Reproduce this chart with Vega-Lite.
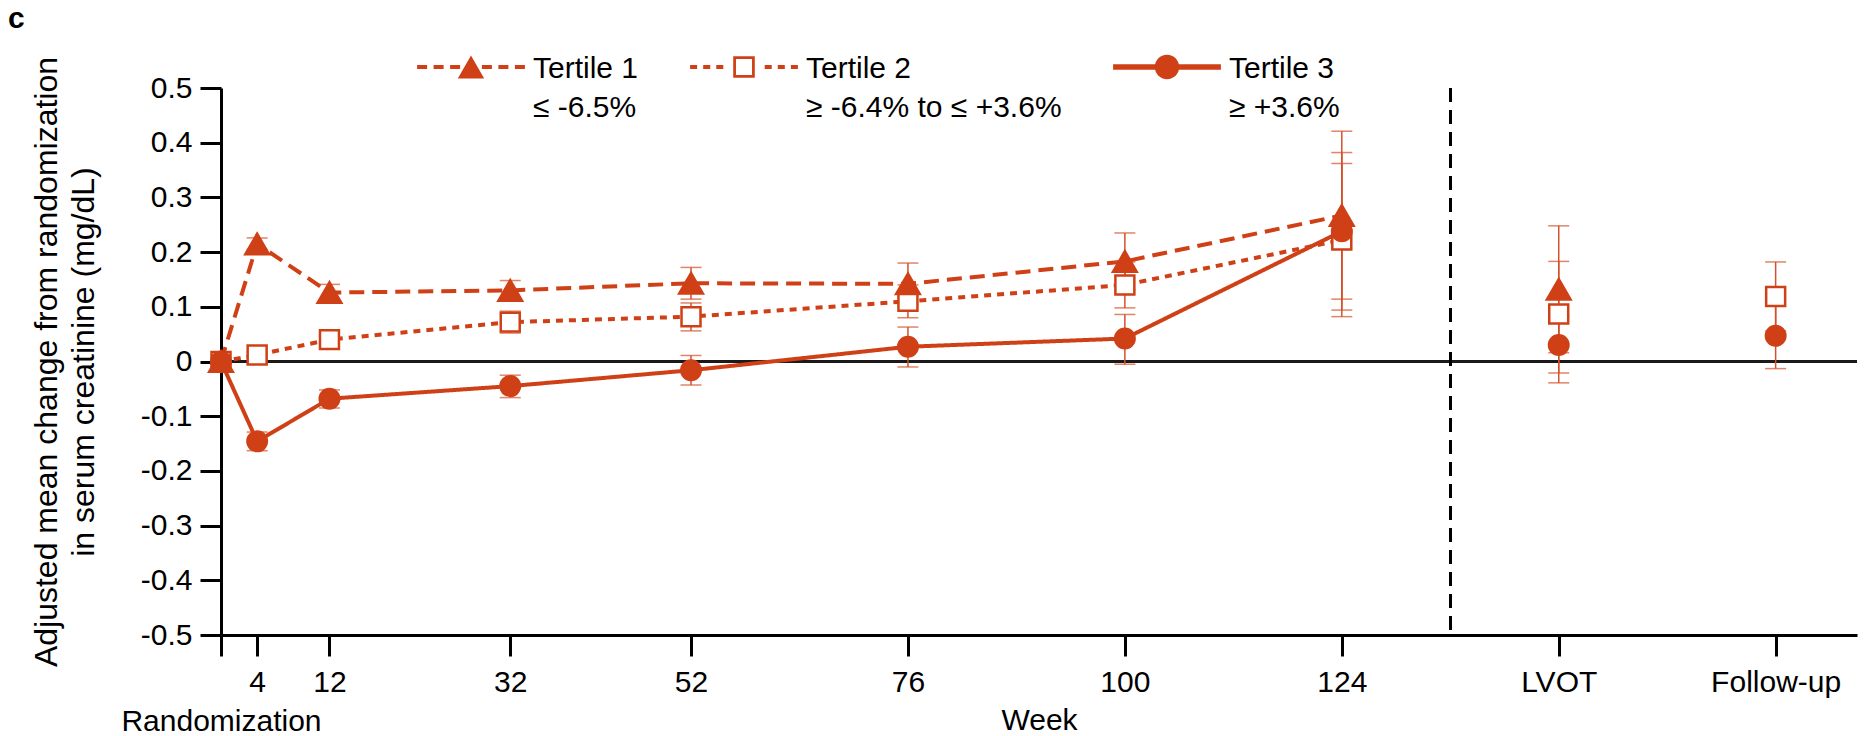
{
  "$schema": "https://vega.github.io/schema/vega-lite/v6.json",
  "width": 1636,
  "height": 547,
  "autosize": "none",
  "padding": {"left": 221, "top": 88, "right": 15, "bottom": 101},
  "background": "white",
  "title": {"text": "c", "anchor": "start", "frame": "group", "fontSize": 30, "fontWeight": "bold", "color": "black", "dx": -213, "offset": 20},
  "config": {
    "font": "Liberation Sans, Arial, sans-serif",
    "view": {"stroke": null},
    "style": {"guide-label": {"lineHeight": 39}},
    "axis": {"grid": false, "domainColor": "black", "tickColor": "black", "labelColor": "black", "titleColor": "black", "titleFontWeight": "normal", "labelFont": "Liberation Sans, Arial, sans-serif", "titleFont": "Liberation Sans, Arial, sans-serif"}
  },
  "data": {"values": [
    {"tertile": "Tertile 2", "week": 0, "mean": 0, "lo": null, "hi": null},
    {"tertile": "Tertile 2", "week": 4, "mean": 0.012, "lo": 0.006, "hi": 0.018},
    {"tertile": "Tertile 2", "week": 12, "mean": 0.04, "lo": 0.032, "hi": 0.048},
    {"tertile": "Tertile 2", "week": 32, "mean": 0.072, "lo": 0.052, "hi": 0.092},
    {"tertile": "Tertile 2", "week": 52, "mean": 0.082, "lo": 0.056, "hi": 0.107},
    {"tertile": "Tertile 2", "week": 76, "mean": 0.11, "lo": 0.08, "hi": 0.14},
    {"tertile": "Tertile 2", "week": 100, "mean": 0.14, "lo": 0.098, "hi": 0.182},
    {"tertile": "Tertile 2", "week": 124, "mean": 0.222, "lo": 0.082, "hi": 0.362},
    {"tertile": "Tertile 2", "week": 148, "mean": 0.087, "lo": -0.021, "hi": 0.183},
    {"tertile": "Tertile 2", "week": 172, "mean": 0.119, "lo": 0.056, "hi": 0.182},
    {"tertile": "Tertile 3", "week": 0, "mean": 0, "lo": null, "hi": null},
    {"tertile": "Tertile 3", "week": 4, "mean": -0.146, "lo": -0.163, "hi": -0.129},
    {"tertile": "Tertile 3", "week": 12, "mean": -0.068, "lo": -0.085, "hi": -0.052},
    {"tertile": "Tertile 3", "week": 32, "mean": -0.045, "lo": -0.066, "hi": -0.025},
    {"tertile": "Tertile 3", "week": 52, "mean": -0.016, "lo": -0.043, "hi": 0.011},
    {"tertile": "Tertile 3", "week": 76, "mean": 0.027, "lo": -0.01, "hi": 0.063},
    {"tertile": "Tertile 3", "week": 100, "mean": 0.042, "lo": -0.005, "hi": 0.086},
    {"tertile": "Tertile 3", "week": 124, "mean": 0.238, "lo": 0.094, "hi": 0.382},
    {"tertile": "Tertile 3", "week": 148, "mean": 0.03, "lo": -0.039, "hi": 0.084},
    {"tertile": "Tertile 3", "week": 172, "mean": 0.047, "lo": -0.013, "hi": 0.101},
    {"tertile": "Tertile 1", "week": 0, "mean": 0, "lo": null, "hi": null},
    {"tertile": "Tertile 1", "week": 4, "mean": 0.215, "lo": 0.205, "hi": 0.226},
    {"tertile": "Tertile 1", "week": 12, "mean": 0.126, "lo": 0.111, "hi": 0.141},
    {"tertile": "Tertile 1", "week": 32, "mean": 0.13, "lo": 0.112, "hi": 0.148},
    {"tertile": "Tertile 1", "week": 52, "mean": 0.143, "lo": 0.114, "hi": 0.172},
    {"tertile": "Tertile 1", "week": 76, "mean": 0.142, "lo": 0.104, "hi": 0.18},
    {"tertile": "Tertile 1", "week": 100, "mean": 0.183, "lo": 0.131, "hi": 0.235},
    {"tertile": "Tertile 1", "week": 124, "mean": 0.267, "lo": 0.114, "hi": 0.421},
    {"tertile": "Tertile 1", "week": 148, "mean": 0.132, "lo": 0.016, "hi": 0.248}
  ]},
  "layer": [
    {
      "mark": {"type": "rule", "color": "#1a1a1a", "strokeWidth": 2.5},
      "encoding": {"y": {"datum": 0, "type": "quantitative"}}
    },
    {
      "mark": {"type": "rule", "color": "black", "strokeWidth": 2.5, "strokeDash": [14, 8]},
      "encoding": {"x": {"datum": 136, "type": "quantitative"}}
    },
    {
      "transform": [{"filter": "datum.week <= 124"}],
      "mark": {"type": "line", "color": "#cf4016", "strokeWidth": 4},
      "encoding": {
        "x": {
          "field": "week", "type": "quantitative",
          "scale": {"domain": [0, 181], "nice": false, "zero": false},
          "axis": {
            "values": [0, 4, 12, 32, 52, 76, 100, 124, 148, 172],
            "labelExpr": "datum.value == 0 ? ['', 'Randomization'] : datum.value == 148 ? 'LVOT' : datum.value == 172 ? 'Follow-up' : datum.label",
            "title": "Week", "titleFontSize": 30, "labelFontSize": 30,
            "tickSize": 21, "tickWidth": 3, "domainWidth": 3,
            "labelFlush": false, "labelOverlap": false, "labelPadding": 11, "labelLineHeight": 39, "labelLimit": 400,
            "titleY": 94, "titleBaseline": "alphabetic"
          }
        },
        "y": {
          "field": "mean", "type": "quantitative",
          "scale": {"domain": [-0.5, 0.5], "nice": false, "zero": false},
          "axis": {
            "values": [-0.5, -0.4, -0.3, -0.2, -0.1, 0, 0.1, 0.2, 0.3, 0.4, 0.5],
            "labelExpr": "datum.value == 0 ? '0' : replace(format(datum.value, '.1f'), '\u2212', '-')",
            "title": ["Adjusted mean change from randomization", "in serum creatinine (mg/dL)"],
            "titleFontSize": 32, "labelFontSize": 30, "titleLineHeight": 37,
            "tickSize": 21, "tickWidth": 3, "domainWidth": 3, "labelPadding": 8, "titlePadding": 40
          }
        },
        "strokeDash": {
          "condition": [
            {"test": "datum.tertile == 'Tertile 1'", "value": [15, 8]},
            {"test": "datum.tertile == 'Tertile 2'", "value": [7, 6]}
          ],
          "value": [1, 0]
        },
        "detail": {"field": "tertile"}
      }
    },
    {
      "transform": [{"filter": "isValid(datum.lo)"}],
      "mark": {"type": "rule", "color": "#d4502a", "strokeWidth": 1.5},
      "encoding": {
        "x": {"field": "week", "type": "quantitative"},
        "y": {"field": "lo", "type": "quantitative"},
        "y2": {"field": "hi"}
      }
    },
    {
      "transform": [{"filter": "isValid(datum.lo)"}],
      "mark": {"type": "tick", "orient": "horizontal", "color": "#d4502a", "size": 21, "thickness": 1.5},
      "encoding": {
        "x": {"field": "week", "type": "quantitative"},
        "y": {"field": "lo", "type": "quantitative"}
      }
    },
    {
      "transform": [{"filter": "isValid(datum.hi)"}],
      "mark": {"type": "tick", "orient": "horizontal", "color": "#d4502a", "size": 21, "thickness": 1.5},
      "encoding": {
        "x": {"field": "week", "type": "quantitative"},
        "y": {"field": "hi", "type": "quantitative"}
      }
    },
    {
      "mark": {"type": "point", "filled": true, "stroke": "#cf4016", "strokeWidth": 2.5, "opacity": 1},
      "encoding": {
        "x": {"field": "week", "type": "quantitative"},
        "y": {"field": "mean", "type": "quantitative"},
        "shape": {
          "condition": [
            {"test": "datum.tertile == 'Tertile 1'", "value": "triangle-up"},
            {"test": "datum.tertile == 'Tertile 2'", "value": "square"}
          ],
          "value": "circle"
        },
        "fill": {
          "condition": {"test": "datum.tertile == 'Tertile 2'", "value": "white"},
          "value": "#cf4016"
        },
        "size": {
          "condition": [
            {"test": "datum.tertile == 'Tertile 1'", "value": 560},
            {"test": "datum.tertile == 'Tertile 2'", "value": 360}
          ],
          "value": 380
        }
      }
    },
    {
      "transform": [{"filter": "false"}],
      "mark": {"type": "point", "filled": true, "color": "#cf4016", "size": 484, "opacity": 1},
      "encoding": {
        "x": {"field": "week", "type": "quantitative"},
        "y": {"field": "mean", "type": "quantitative"},
        "shape": {
          "field": "tertile", "type": "nominal",
          "scale": {
            "domain": ["Tertile 1", "Tertile 2", "Tertile 3"],
            "range": [
              "M-4.9,-0.36H-3.99V0H-4.9ZM-3.4,-0.36H-2.49V0H-3.4ZM-1.9,-0.36H-0.99V0H-1.9ZM0.99,-0.36H1.9V0H0.99ZM2.49,-0.36H3.4V0H2.49ZM3.99,-0.36H4.9V0H3.99ZM-1.2,0.86L0,-1.22L1.2,0.86Z",
              "M-4.9,-0.36H-4.26V0H-4.9ZM-3.71,-0.36H-3.07V0H-3.71ZM-2.52,-0.36H-1.88V0H-2.52ZM1.88,-0.36H2.52V0H1.88ZM3.07,-0.36H3.71V0H3.07ZM4.26,-0.36H4.9V0H4.26ZM-0.98,-1.16H0.98V0.8H-0.98ZM-0.73,-0.91V0.55H0.73V-0.91Z",
              "M-4.9,-0.43H4.9V0.07H-4.9ZM-1.11,-0.18A1.11,1.11,0,1,1,1.11,-0.18A1.11,1.11,0,1,1,-1.11,-0.18Z"
            ]
          },
          "legend": {
            "orient": "none", "legendX": 235, "legendY": -34, "direction": "horizontal", "title": null,
            "labelFontSize": 30, "labelFont": "Liberation Sans, Arial, sans-serif", "labelColor": "black",
            "labelLimit": 500, "labelOffset": 47, "columnPadding": 48,
            "symbolSize": 484, "symbolFillColor": "#cf4016", "symbolOpacity": 1,
            "labelExpr": "datum.value == 'Tertile 1' ? ['Tertile 1', '\u2264 -6.5%'] : datum.value == 'Tertile 2' ? ['Tertile 2', '\u2265 -6.4% to \u2264 +3.6%'] : ['Tertile 3', '\u2265 +3.6%']"
          }
        }
      }
    }
  ]
}
